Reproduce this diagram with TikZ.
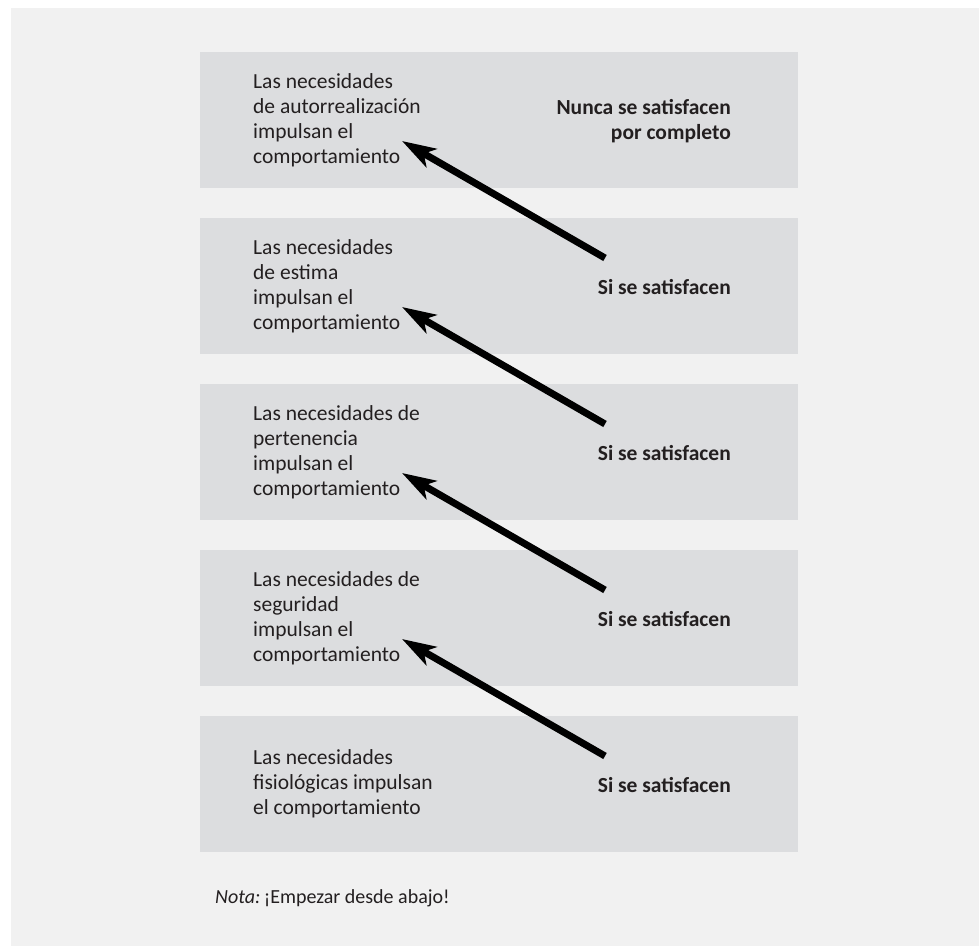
\documentclass[tikz,border=0pt]{standalone}
\usepackage{fontspec}
\setmainfont{Carlito}
\usetikzlibrary{arrows.meta}
\definecolor{panelgray}{RGB}{241,241,241}
\definecolor{boxgray}{RGB}{220,221,223}
\definecolor{inkgray}{RGB}{35,31,32}
\begin{document}
\begin{tikzpicture}[x=1pt,y=-1pt,
  level/.style={fill=boxgray,draw=none},
  need/.style={anchor=west,align=left,inner sep=0pt,text=inkgray,
    font=\fontsize{21.5}{25}\selectfont},
  result/.style={anchor=east,align=right,inner sep=0pt,text=inkgray,
    font=\fontsize{21.5}{25}\selectfont\bfseries},
  climb/.style={line width=7pt,draw=black,
    -{Stealth[length=34pt,width=21pt,inset=9pt]}}]
\useasboundingbox (0,0) rectangle (979,946);
% page panel
\fill[panelgray] (11,8) rectangle (979,946);
% the five levels, top to bottom
\foreach \i/\t in {1/52,2/218,3/384,4/550,5/716}
  \path[level] (200,\t) rectangle (798,\t+136);
% needs (left column)
\node[need] (n1) at (253,120) {Las necesidades\\de autorrealización\\impulsan el\\comportamiento};
\node[need] (n2) at (253,286) {Las necesidades\\de estima\\impulsan el\\comportamiento};
\node[need] (n3) at (253,452) {Las necesidades de\\pertenencia\\impulsan el\\comportamiento};
\node[need] (n4) at (253,618) {Las necesidades de\\seguridad\\impulsan el\\comportamiento};
\node[need] (n5) at (253,784) {Las necesidades\\fisiológicas impulsan\\el comportamiento};
% outcomes (right column)
\node[result] (r1) at (731,121) {Nunca se satisfacen\\por completo};
\node[result] (r2) at (731,287) {Si se satisfacen};
\node[result] (r3) at (731,453) {Si se satisfacen};
\node[result] (r4) at (731,619) {Si se satisfacen};
\node[result] (r5) at (731,785) {Si se satisfacen};
% arrow ends
\foreach \k in {1,...,4}{
  \coordinate (tip\k) at (402,141+166*\k-166);
  \coordinate (tail\k) at (605,258+166*\k-166);
}
\draw[climb] (tail1) -- (tip1);
\draw[climb] (tail2) -- (tip2);
\draw[climb] (tail3) -- (tip3);
\draw[climb] (tail4) -- (tip4);
% note
\node[anchor=base west,inner sep=0pt,text=inkgray,font=\fontsize{20}{24}\selectfont]
  (nota) at (215,903) {\textit{Nota:}\,¡Empezar desde abajo!};
\end{tikzpicture}
\end{document}
